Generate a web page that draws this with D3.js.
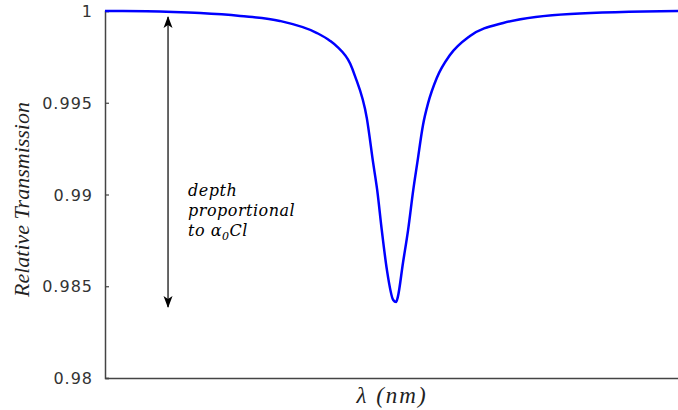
<!DOCTYPE html>
<html>
<head>
<meta charset="utf-8">
<script src="https://cdn.jsdelivr.net/npm/d3@7"></script>
<style>
  html, body { margin: 0; padding: 0; background: #fff; }
  svg { display: block; }
</style>
</head>
<body>
<svg id="chart" width="678" height="410"></svg>
<script>
// Absorption line: relative wavelength (arbitrary units) vs relative transmission
const lambda = [0, 0.31, 1.19, 1.66, 2.36, 3.05, 3.70, 3.93, 4.05, 4.28, 4.36, 4.57, 4.68, 4.75,
  4.83, 4.92, 5.03, 5.08, 5.11, 5.20, 5.29, 5.38, 5.45, 5.55, 5.64, 5.79, 6.02, 6.37, 6.95, 8.12, 10];
const transmission = [1.0000, 1.0000, 0.99995, 0.99989, 0.99973, 0.99946, 0.99880, 0.99837, 0.99806,
  0.99712, 0.99648, 0.99415, 0.99172, 0.99025, 0.98807, 0.98589, 0.98425, 0.98414, 0.98441, 0.98627,
  0.98807, 0.99025, 0.99172, 0.99379, 0.99499, 0.99635, 0.99760, 0.99864, 0.99935, 0.99984, 1.0000];
const yTicks = [0.98, 0.985, 0.99, 0.995, 1];
const yTickLabels = ["0.98", "0.985", "0.99", "0.995", "1"];
const annotationLines = ["depth", "proportional", "to "];

const svg = d3.select("#chart");
const plotLeft = 105, plotRight = 678, plotTop = 11, plotBottom = 378;

const x = d3.scaleLinear().domain([0, 10]).range([plotLeft, plotRight]);
const y = d3.scaleLinear().domain([0.98, 1]).range([plotBottom, plotTop]);

const axisColor = "#444";

// Left axis with short inward ticks
const yAxis = d3.axisLeft(y)
  .tickValues(yTicks)
  .tickSize(-4)
  .tickPadding(12)
  .tickFormat((d, i) => yTickLabels[i]);

const gy = svg.append("g").attr("transform", `translate(${plotLeft},0)`).call(yAxis);
gy.select(".domain").attr("stroke", axisColor).attr("stroke-width", 1.5);
gy.selectAll(".tick line").attr("stroke", axisColor).attr("stroke-width", 1.2);
gy.selectAll(".tick text")
  .attr("fill", "#333")
  .attr("font-family", "DejaVu Sans, Verdana, sans-serif")
  .attr("font-size", 16)
  .attr("letter-spacing", 1)
  .attr("dy", "0.35em");

// Bottom axis: plain line, no ticks
const xAxis = d3.axisBottom(x).tickValues([]).tickSizeOuter(0);
const gx = svg.append("g").attr("transform", `translate(0,${plotBottom})`).call(xAxis);
gx.select(".domain").attr("stroke", axisColor).attr("stroke-width", 1.5);

// Transmission curve
const pts = lambda.map((l, i) => [l, transmission[i]]);
const line = d3.line()
  .x(d => x(d[0]))
  .y(d => y(d[1]))
  .curve(d3.curveMonotoneX);

svg.append("path")
  .datum(pts)
  .attr("d", line)
  .attr("fill", "none")
  .attr("stroke", "#0000ff")
  .attr("stroke-width", 2.5)
  .attr("stroke-linejoin", "round");

// Double-headed arrow showing the line depth
const minT = d3.min(transmission);
const arrowX = x(1.1);
const defs = svg.append("defs");
defs.append("marker")
  .attr("id", "head")
  .attr("viewBox", "0 0 12 12")
  .attr("refX", 11)
  .attr("refY", 6)
  .attr("markerWidth", 12)
  .attr("markerHeight", 12)
  .attr("markerUnits", "userSpaceOnUse")
  .attr("orient", "auto-start-reverse")
  .append("path")
  .attr("d", "M0,1.5 L12,6 L0,10.5 L3,6 Z")
  .attr("fill", "#000");

svg.append("line")
  .attr("x1", arrowX).attr("x2", arrowX)
  .attr("y1", y(1) + 6).attr("y2", y(minT) + 5)
  .attr("stroke", "#000")
  .attr("stroke-width", 1.2)
  .attr("marker-start", "url(#head)")
  .attr("marker-end", "url(#head)");

// Annotation text
const ann = svg.append("g")
  .attr("font-family", "DejaVu Serif, serif")
  .attr("font-style", "italic")
  .attr("font-size", 16)
  .attr("letter-spacing", 0.5)
  .attr("fill", "#000");
const annX = 188;
ann.append("text").attr("x", annX).attr("y", 196).text(annotationLines[0]);
ann.append("text").attr("x", annX).attr("y", 216).text(annotationLines[1]);
const t3 = ann.append("text").attr("x", annX).attr("y", 236);
t3.append("tspan").text(annotationLines[2]);
t3.append("tspan").text("α");
t3.append("tspan").attr("font-size", 11).attr("dy", 4).text("0");
t3.append("tspan").attr("dy", -4).text("Cl");

// Axis titles
svg.append("text")
  .attr("transform", `translate(29,${(plotTop + plotBottom) / 2 + 5}) rotate(-90)`)
  .attr("text-anchor", "middle")
  .attr("font-family", "Liberation Serif, Times New Roman, serif")
  .attr("font-style", "italic")
  .attr("font-size", 22)
  .attr("fill", "#222")
  .text("Relative Transmission");

svg.append("text")
  .attr("x", 392)
  .attr("y", 403)
  .attr("text-anchor", "middle")
  .attr("font-family", "Liberation Serif, Times New Roman, serif")
  .attr("font-style", "italic")
  .attr("font-size", 23)
  .attr("letter-spacing", 2)
  .attr("fill", "#222")
  .text("λ (nm)");
</script>
</body>
</html>
